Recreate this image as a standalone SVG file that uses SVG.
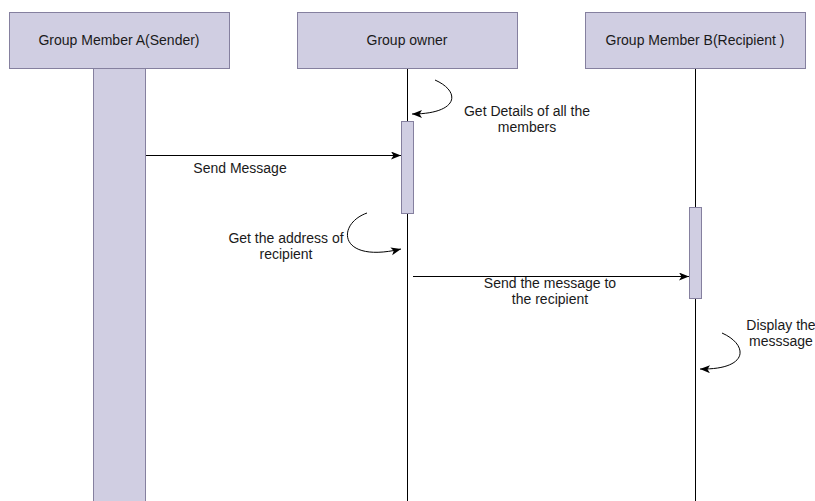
<svg xmlns="http://www.w3.org/2000/svg" width="815" height="501" viewBox="0 0 815 501">
  <style>
    .actor { fill: #d0cee2; stroke: #85809f; stroke-width: 1; }
    .act { fill: #d0cee2; stroke: #85809f; stroke-width: 1; }
    .life { stroke: #000; stroke-width: 1; fill: none; }
    .msg { stroke: #000; stroke-width: 1; fill: none; marker-end: url(#arrow); }
    text { font-family: "Liberation Sans", Arial, sans-serif; font-size: 14px; fill: #1a1a1a; text-anchor: middle; }
  </style>
  <defs>
    <marker id="arrow" markerUnits="userSpaceOnUse" markerWidth="12" markerHeight="10" refX="10" refY="4" orient="auto">
      <path d="M0,0 L10,4 L0,8 L2.5,4 Z" fill="#000"/>
    </marker>
  </defs>

  <rect width="815" height="501" fill="#ffffff"/>

  <!-- lifelines -->
  <g id="lifelines">
    <line class="life" x1="407.5" y1="69" x2="407.5" y2="501"/>
    <line class="life" x1="695.5" y1="69" x2="695.5" y2="501"/>
  </g>

  <!-- Group Member A (Sender) -->
  <g id="member-a">
    <rect class="actor" x="9.5" y="12.5" width="220" height="56"/>
    <text x="119" y="45">Group Member A(Sender)</text>
    <rect class="act" x="93.5" y="68.5" width="52" height="440"/>
  </g>

  <!-- Group owner -->
  <g id="owner">
    <rect class="actor" x="297.5" y="12.5" width="220" height="56"/>
    <text x="407" y="45">Group owner</text>
    <rect class="act" x="401.5" y="121.5" width="12" height="92"/>
  </g>

  <!-- Group Member B (Recipient) -->
  <g id="member-b">
    <rect class="actor" x="585.5" y="12.5" width="220" height="56"/>
    <text x="695" y="45">Group Member B(Recipient )</text>
    <rect class="act" x="689.5" y="207.5" width="12" height="91"/>
  </g>

  <!-- messages -->
  <g id="connectors">
    <path class="msg" d="M435,80 C462,92 458,114 412,114"/>
    <line class="msg" x1="146" y1="155.5" x2="401" y2="155.5"/>
    <path class="msg" d="M367,213 C336,224 338,264 401,249"/>
    <line class="msg" x1="413" y1="276.5" x2="689" y2="276.5"/>
    <path class="msg" d="M722,333 C749,345 749,370 700,369"/>
  </g>

  <!-- message labels -->
  <g id="labels">
    <text x="527" y="116">Get Details of all the</text>
    <text x="527" y="132">members</text>
    <text x="240" y="173">Send Message</text>
    <text x="286" y="243">Get the address of</text>
    <text x="286" y="259">recipient</text>
    <text x="550" y="288">Send the message to</text>
    <text x="550" y="304">the recipient</text>
    <text x="781" y="330">Display the</text>
    <text x="781" y="346">messsage</text>
  </g>
</svg>
